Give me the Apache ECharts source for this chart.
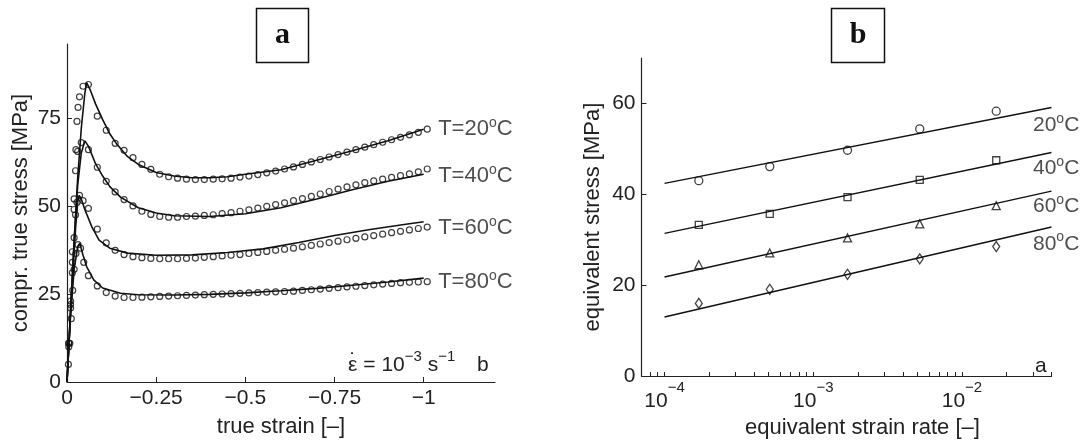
<!DOCTYPE html>
<html><head><meta charset="utf-8">
<script src="https://cdn.jsdelivr.net/npm/echarts@6/dist/echarts.min.js"></script>
<style>html,body{margin:0;padding:0;background:#fff;}#c{width:1085px;height:444px;}</style>
</head><body><div id="c"></div>
<script>
// ---------------- Panel a : compr. true stress vs true strain ----------------
const strainTicks = [0, -0.25, -0.5, -0.75, -1];
const stressTicksA = [0, 25, 50, 75];
const tempNamesA = ['T=20', 'T=40', 'T=60', 'T=80'];

// model (solid) curves
const fitStrain20 = [0,-0.01,-0.02,-0.03,-0.04,-0.05,-0.055,-0.065,-0.08,-0.1,-0.12,-0.14,-0.17,-0.2,-0.25,-0.3,-0.35,-0.4,-0.45,-0.5,-0.6,-0.7,-0.8,-0.9,-1.0];
const fitStress20 = [0,20,40,58,72,82,85,83,79,74.5,70.5,67.5,64,61.8,59.5,58.5,58,58,58.3,59,60.3,63,65.7,68.5,71.8];
const fitStrain40 = [0,-0.01,-0.02,-0.03,-0.04,-0.05,-0.06,-0.08,-0.1,-0.12,-0.15,-0.2,-0.25,-0.3,-0.4,-0.5,-0.6,-0.7,-0.8,-0.9,-1.0];
const fitStress40 = [0,20,40,56,65,68.5,67,62,58.5,55.5,52.5,49.5,48,47.2,47,47.8,49.5,52,54.6,57,59];
const fitStrain60 = [0,-0.01,-0.02,-0.025,-0.03,-0.034,-0.04,-0.05,-0.07,-0.09,-0.12,-0.17,-0.25,-0.35,-0.45,-0.55,-0.65,-0.75,-0.85,-0.95,-1.0];
const fitStress60 = [0,20,37,45,51,53,52,49,44,40.3,38,36.6,36,36.1,36.8,37.8,39.6,41.6,43.3,44.8,45.5];
const fitStrain80 = [0,-0.01,-0.02,-0.03,-0.036,-0.045,-0.055,-0.075,-0.1,-0.15,-0.2,-0.3,-0.4,-0.5,-0.6,-0.7,-0.8,-0.9,-1.0];
const fitStress80 = [0,19,32,38.5,39.4,36,32.8,29,26.7,25.2,24.8,24.7,24.9,25.3,25.9,26.6,27.5,28.4,29.5];

// measured points: loading part
const riseStrain20 = [-0.005,-0.01,-0.015,-0.02,-0.025,-0.028,-0.031,-0.035,-0.045];
const riseStress20 = [11,23,37,52,66,74,78,81,84];
const riseStrain40 = [-0.005,-0.01,-0.015,-0.02,-0.024,-0.03,-0.04];
const riseStress40 = [11,22,34,49,60,65.5,68];
const riseStrain60 = [-0.005,-0.01,-0.015,-0.02,-0.024,-0.028,-0.035,-0.045];
const riseStress60 = [10,21,31,41,47.5,51,53,51.5];
const riseStrain80 = [-0.004,-0.008,-0.012,-0.016,-0.02,-0.025,-0.031,-0.038,-0.047];
const riseStress80 = [5,11,18,26,32,36.5,39,38,34];

// measured points: post-yield part (shared strain grid)
const markerStrain = [-0.06,-0.085,-0.11,-0.135,-0.16,-0.185,-0.21,-0.235,-0.26,-0.285,-0.31,-0.335,-0.36,-0.385,-0.41,-0.435,-0.46,-0.485,-0.51,-0.535,-0.56,-0.585,-0.61,-0.635,-0.66,-0.685,-0.71,-0.735,-0.76,-0.785,-0.81,-0.835,-0.86,-0.885,-0.91,-0.935,-0.96,-0.985,-1.01];
const meas20 = [84.5,75.5,71.5,67.8,65.8,63.7,61.8,60.4,59.0,58.3,57.9,57.6,57.5,57.5,57.6,57.7,57.9,58.2,58.5,58.9,59.4,59.9,60.5,61.1,61.8,62.5,63.2,63.9,64.6,65.3,66.0,66.7,67.4,68.1,68.8,69.5,70.2,70.9,71.8];
const meas40 = [66,61,57,54,51.8,50,48.5,47.6,47.0,46.8,46.8,47.0,47.1,47.3,47.5,47.8,48.1,48.5,48.9,49.4,49.9,50.4,50.9,51.5,52.1,52.7,53.4,54.1,54.8,55.4,56.0,56.6,57.1,57.6,58.1,58.6,59.1,59.7,60.5];
const meas60 = [49.3,43.4,39.5,37.4,36.2,35.6,35.3,35.1,35.0,35.0,35.0,35.1,35.2,35.4,35.6,35.8,36.0,36.2,36.5,36.8,37.1,37.4,37.7,38.0,38.4,38.8,39.2,39.6,40.0,40.4,40.8,41.2,41.6,42.0,42.4,42.8,43.2,43.6,44.0];
const meas80 = [30.2,27.3,25.4,24.4,24.0,24.0,24.1,24.2,24.3,24.4,24.5,24.6,24.7,24.8,24.9,25.0,25.1,25.2,25.3,25.4,25.5,25.6,25.7,25.8,26.0,26.2,26.4,26.6,26.8,27.0,27.2,27.4,27.6,27.8,28.0,28.2,28.3,28.4,28.5];

// ---------------- Panel b : equivalent stress vs strain rate ----------------
const rateMajorTicks = [1e-4, 1e-3, 1e-2];
const rateAllTicks = [7e-5,8e-5,9e-5,1e-4,2e-4,3e-4,4e-4,5e-4,6e-4,7e-4,8e-4,9e-4,1e-3,2e-3,3e-3,4e-3,5e-3,6e-3,7e-3,8e-3,9e-3,1e-2,2e-2,3e-2,4e-2];
const stressTicksB = [0, 20, 40, 60];
const tempNamesB = ['20', '40', '60', '80'];
const rates = [1.7e-4, 5.1e-4, 1.7e-3, 5.2e-3, 1.7e-2];
const eq20 = [43.0, 46.1, 49.7, 54.4, 58.3];
const eq40 = [33.3, 35.7, 39.4, 43.2, 47.5];
const eq60 = [24.5, 27.1, 30.4, 33.5, 37.5];
const eq80 = [16.0, 19.1, 22.4, 25.8, 28.5];
const fitRates = [1e-4, 4e-2];
const fitB20 = [42.4, 59.1];
const fitB40 = [31.4, 49.2];
const fitB60 = [21.8, 40.7];
const fitB80 = [13.0, 32.8];

// ---------------- build ----------------
const FONT = '"Liberation Sans", Arial, Helvetica, sans-serif';
const TXT = '#222';
const INK = '#111';
const zip = (xs, ys) => xs.map((x, i) => [x, ys[i]]);
const last = a => a[a.length - 1];

const fitsA = [[fitStrain20, fitStress20], [fitStrain40, fitStress40], [fitStrain60, fitStress60], [fitStrain80, fitStress80]];
const measA = [
  [riseStrain20.concat(markerStrain), riseStress20.concat(meas20)],
  [riseStrain40.concat(markerStrain), riseStress40.concat(meas40)],
  [riseStrain60.concat(markerStrain), riseStress60.concat(meas60)],
  [riseStrain80.concat(markerStrain), riseStress80.concat(meas80)]
];
const labelDyA = [0, 2, 6, 4];
const fitsB = [fitB20, fitB40, fitB60, fitB80];
const measB = [eq20, eq40, eq60, eq80];
const symB = ['circle', 'rect', 'triangle', 'diamond'];
const symSizeB = [8, 7, 8, [7, 10]];
const labelDyB = [18, 16, 15, 17];

const series = [];
fitsA.forEach((f, i) => {
  series.push({ type: 'line', xAxisIndex: 0, yAxisIndex: 0, data: zip(f[0], f[1]), showSymbol: false, symbol: 'none',
    lineStyle: { color: INK, width: 1.6 }, z: 2, silent: true });
});
measA.forEach((m, i) => {
  series.push({ type: 'scatter', xAxisIndex: 0, yAxisIndex: 0, data: zip(m[0], m[1]), symbol: 'circle', symbolSize: 6,
    itemStyle: { color: 'rgba(0,0,0,0)', borderColor: '#111', borderWidth: 1.2 }, z: 3, silent: true });
});
fitsA.forEach((f, i) => {
  series.push({ type: 'scatter', xAxisIndex: 0, yAxisIndex: 0, data: [[last(f[0]), last(f[1])]], symbolSize: 1,
    itemStyle: { color: 'rgba(0,0,0,0)' }, silent: true,
    label: { show: true, position: 'right', distance: 14, offset: [0, labelDyA[i]], formatter: tempNamesA[i] + '{s|o}C',
      color: TXT, fontSize: 22, fontFamily: FONT,
      rich: { s: { fontSize: 14, color: TXT, fontFamily: FONT, padding: [0, 0, 12, 0] } } } });
});
fitsB.forEach((f, i) => {
  series.push({ type: 'line', xAxisIndex: 1, yAxisIndex: 1, data: zip(fitRates, f), showSymbol: false, symbol: 'none',
    lineStyle: { color: INK, width: 1.4 }, z: 2, silent: true });
  series.push({ type: 'scatter', xAxisIndex: 1, yAxisIndex: 1, data: zip(rates, measB[i]), symbol: symB[i], symbolSize: symSizeB[i],
    itemStyle: { color: 'rgba(0,0,0,0)', borderColor: '#111', borderWidth: 1.3 }, z: 3, silent: true });
  series.push({ type: 'scatter', xAxisIndex: 1, yAxisIndex: 1, data: [[last(fitRates), last(f)]], symbolSize: 1,
    itemStyle: { color: 'rgba(0,0,0,0)' }, silent: true,
    label: { show: true, position: 'right', distance: 0, offset: [-19, labelDyB[i]], formatter: tempNamesB[i] + '{s|o}C',
      color: TXT, fontSize: 21, fontFamily: FONT,
      rich: { s: { fontSize: 14, color: TXT, fontFamily: FONT, padding: [0, 0, 13, 0] } } } });
});

const axisLineStyle = { show: true, lineStyle: { color: '#222', width: 1.2 } };
const nameStyle = { fontSize: 22, color: TXT, fontFamily: FONT };

const option = {
  animation: false,
  backgroundColor: '#fff',
  grid: [
    { left: 67, top: 44, width: 428, height: 338 },
    { left: 641.5, top: 58, width: 410, height: 324 }
  ],
  xAxis: [
    { gridIndex: 0, type: 'value', min: -1.2, max: 0, inverse: true,
      axisLine: axisLineStyle,
      axisTick: { show: true, inside: true, length: 5, customValues: strainTicks, lineStyle: { color: '#222' } },
      axisLabel: { customValues: strainTicks, formatter: v => v === 0 ? '0' : '\u2212' + Math.abs(v),
        color: TXT, fontSize: 21, fontFamily: FONT, margin: 6 },
      splitLine: { show: false },
      name: 'true strain [\u2013]', nameLocation: 'middle', nameGap: 34, nameTextStyle: nameStyle },
    { gridIndex: 1, type: 'log', logBase: 10, min: 7e-5, max: 4e-2,
      axisLine: axisLineStyle,
      axisTick: { show: true, inside: true, length: 4, customValues: rateAllTicks, lineStyle: { color: '#222' } },
      axisLabel: { customValues: rateMajorTicks, margin: 4,
        formatter: v => '{b|10}{s|\u2212' + Math.abs(Math.round(Math.log10(v))) + '}',
        rich: { b: { fontSize: 21, color: TXT, fontFamily: FONT }, s: { fontSize: 15, color: TXT, fontFamily: FONT, padding: [0, 0, 28, 0] } } },
      splitLine: { show: false }, minorTick: { show: false },
      name: 'equivalent strain rate [\u2013]', nameLocation: 'middle', nameGap: 33,
      nameTextStyle: Object.assign({ padding: [0, 0, 0, 32] }, nameStyle) }
  ],
  yAxis: [
    { gridIndex: 0, type: 'value', min: 0, max: 96,
      axisLine: axisLineStyle,
      axisTick: { show: true, inside: true, length: 5, customValues: stressTicksA, lineStyle: { color: '#222' } },
      axisLabel: { customValues: stressTicksA, color: TXT, fontSize: 21, fontFamily: FONT, margin: 6 },
      splitLine: { show: false },
      name: 'compr. true stress [MPa]', nameLocation: 'middle', nameGap: 35, nameRotate: 90, nameTextStyle: nameStyle },
    { gridIndex: 1, type: 'value', min: 0, max: 70,
      axisLine: axisLineStyle,
      axisTick: { show: true, inside: true, length: 5, customValues: stressTicksB, lineStyle: { color: '#222' } },
      axisLabel: { customValues: stressTicksB, color: TXT, fontSize: 21, fontFamily: FONT, margin: 6 },
      splitLine: { show: false },
      name: 'equivalent stress [MPa]', nameLocation: 'middle', nameGap: 38, nameRotate: 90, nameTextStyle: nameStyle }
  ],
  graphic: [
    { type: 'rect', shape: { x: 256.5, y: 8.5, width: 52, height: 54 }, style: { fill: 'none', stroke: INK, lineWidth: 1.5 } },
    { type: 'text', x: 282.5, y: 35.5, style: { text: 'a', align: 'center', verticalAlign: 'middle', fill: INK, font: 'bold 30px "Liberation Serif", "Times New Roman", serif' } },
    { type: 'rect', shape: { x: 831.5, y: 8.5, width: 53, height: 54 }, style: { fill: 'none', stroke: INK, lineWidth: 1.5 } },
    { type: 'text', x: 858, y: 35.5, style: { text: 'b', align: 'center', verticalAlign: 'middle', fill: INK, font: 'bold 30px "Liberation Serif", "Times New Roman", serif' } },
    { type: 'text', x: 348, y: 365, style: { text: '\u03B5', align: 'left', verticalAlign: 'middle', fill: TXT, font: '21px ' + FONT } },
    { type: 'text', x: 353, y: 361, style: { text: '\u02D9', align: 'center', verticalAlign: 'middle', fill: TXT, font: '21px ' + FONT } },
    { type: 'text', x: 357.5, y: 365, style: { text: '{m| = 10}{s|\u22123}{m| s}{s|\u22121}', align: 'left', verticalAlign: 'middle',
      rich: { m: { fontSize: 21, fill: TXT, fontFamily: FONT }, s: { fontSize: 15, fill: TXT, fontFamily: FONT, padding: [0, 0, 16, 0] } } } },
    { type: 'text', x: 477, y: 365, style: { text: 'b', align: 'left', verticalAlign: 'middle', fill: TXT, font: '21px ' + FONT } },
    { type: 'text', x: 1035, y: 366, style: { text: 'a', align: 'left', verticalAlign: 'middle', fill: TXT, font: '21px ' + FONT } }
  ],
  series: series
};
const chart = echarts.init(document.getElementById('c'), null, { renderer: 'canvas' });
chart.setOption(option);
</script></body></html>
